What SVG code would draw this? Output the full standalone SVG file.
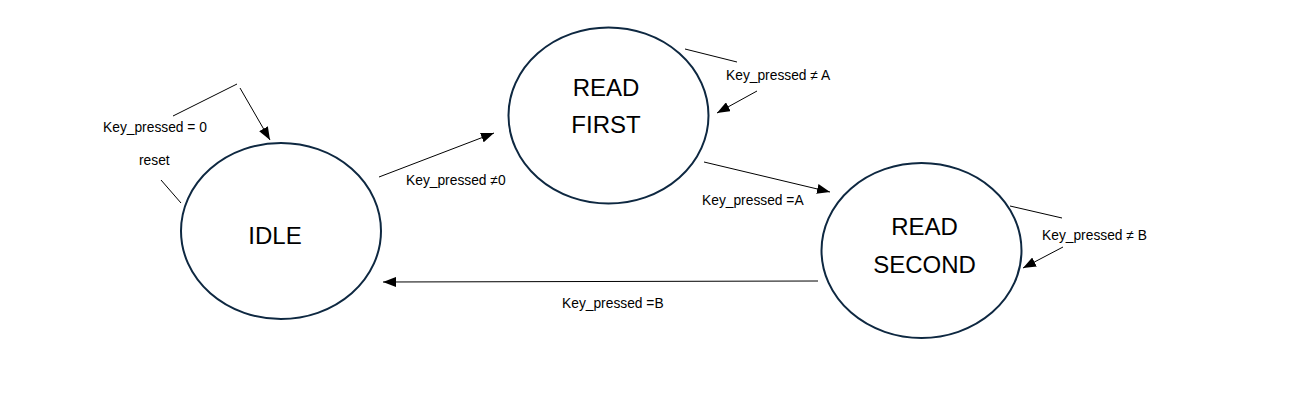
<svg xmlns="http://www.w3.org/2000/svg" width="1307" height="407" viewBox="0 0 1307 407">
<style>
.node{fill:#fff;stroke:#0e2841;stroke-width:2}
.nt{font-family:"Liberation Sans",Arial,sans-serif;font-size:24px;fill:#000;text-anchor:middle}
.lb{font-family:"Liberation Sans",Arial,sans-serif;font-size:13.8px;fill:#000}
.ln{stroke:#000;stroke-width:1;fill:none}
.ar{stroke:#000;stroke-width:1;fill:none;marker-end:url(#ah)}
</style>
<defs>
<marker id="ah" markerUnits="userSpaceOnUse" markerWidth="14" markerHeight="10" refX="13" refY="5" orient="auto">
<path d="M0,0 L13,5 L0,10 Z" fill="#000"/>
</marker>
</defs>
<rect width="1307" height="407" fill="#fff"/>
<g id="connectors">
<line class="ln" x1="173" y1="116" x2="237" y2="84"/>
<line class="ar" x1="240" y1="88" x2="270" y2="140"/>
<line class="ln" x1="161" y1="180" x2="181" y2="203"/>
<line class="ar" x1="379" y1="177" x2="494" y2="133"/>
<line class="ln" x1="685" y1="49" x2="737" y2="62"/>
<line class="ar" x1="757" y1="91" x2="717" y2="113"/>
<line class="ar" x1="704" y1="162" x2="830" y2="192"/>
<line class="ln" x1="1010" y1="206" x2="1062" y2="218"/>
<line class="ar" x1="1063" y1="247" x2="1023" y2="268"/>
<line class="ar" x1="818" y1="281" x2="383" y2="282"/>
<text class="lb" x="103" y="132">Key_pressed = 0</text>
<text class="lb" x="139" y="165">reset</text>
<text class="lb" x="406" y="185">Key_pressed ≠0</text>
<text class="lb" x="726" y="80">Key_pressed ≠ A</text>
<text class="lb" x="702" y="205">Key_pressed =A</text>
<text class="lb" x="1042" y="240">Key_pressed ≠ B</text>
<text class="lb" x="562" y="308">Key_pressed =B</text>
</g>
<g id="idle">
<ellipse class="node" cx="281" cy="231" rx="100" ry="88"/>
<text class="nt" x="275" y="244">IDLE</text>
</g>
<g id="read_first">
<ellipse class="node" cx="608.5" cy="115.5" rx="100" ry="88"/>
<text class="nt" x="606" y="96">READ</text>
<text class="nt" x="606" y="133">FIRST</text>
</g>
<g id="read_second">
<ellipse class="node" cx="921.5" cy="250.5" rx="100" ry="87.5"/>
<text class="nt" x="924.5" y="235">READ</text>
<text class="nt" x="924.5" y="273">SECOND</text>
</g>
</svg>
